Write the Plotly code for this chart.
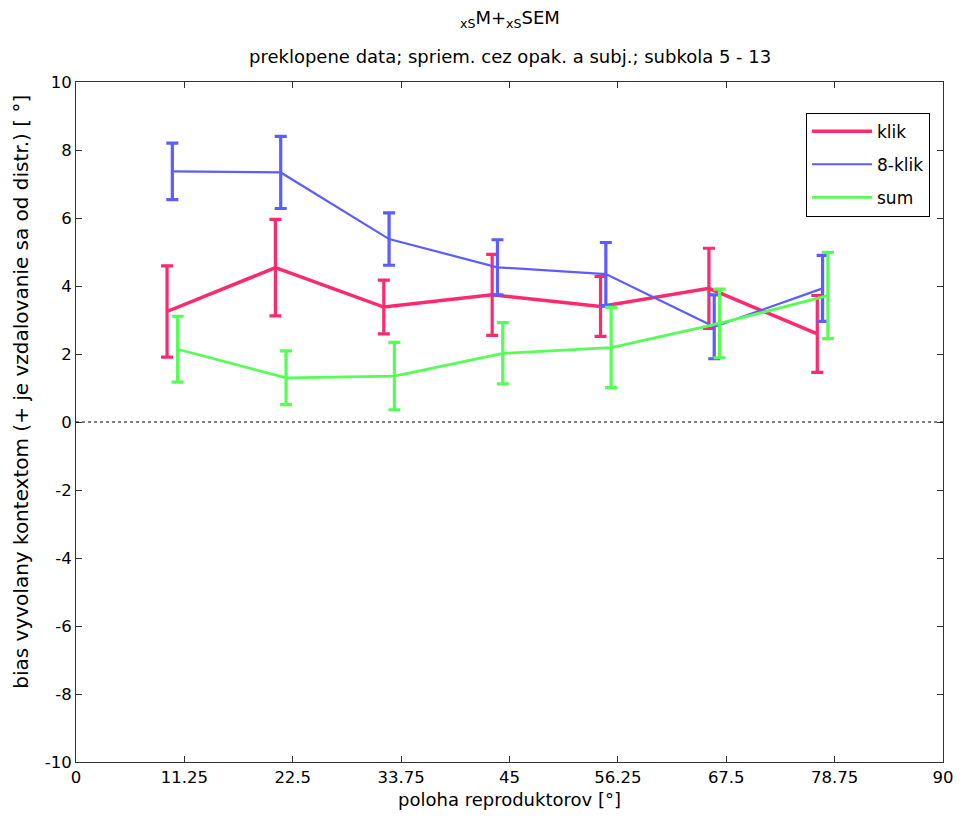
import plotly.graph_objects as go

positions = [11.25, 22.5, 33.75, 45, 56.25, 67.5, 78.75]
tick_vals = [0, 11.25, 22.5, 33.75, 45, 56.25, 67.5, 78.75, 90]
tick_text = ["0", "11.25", "22.5", "33.75", "45", "56.25", "67.5", "78.75", "90"]
y_ticks = [-10, -8, -6, -4, -2, 0, 2, 4, 6, 8, 10]
y_tick_text = ["-10", "-8", "-6", "-4", "-2", "0", "2", "4", "6", "8", "10"]

klik_mean = [3.25, 4.54, 3.38, 3.74, 3.40, 3.93, 2.59]
klik_sem = [1.34, 1.42, 0.79, 1.19, 0.88, 1.18, 1.13]
klik8_mean = [7.37, 7.34, 5.38, 4.55, 4.35, 2.80, 3.93]
klik8_sem = [0.83, 1.06, 0.77, 0.81, 0.93, 0.94, 0.97]
sum_mean = [2.14, 1.30, 1.35, 2.02, 2.19, 2.90, 3.72]
sum_sem = [0.97, 0.79, 0.99, 0.90, 1.18, 1.01, 1.27]

offsets = {"klik": -1.8, "8-klik": -1.25, "sum": -0.7}

series = [
    ("klik", klik_mean, klik_sem, "#FF2A6E", 3.5),
    ("8-klik", klik8_mean, klik8_sem, "#5C5CFF", 2.2),
    ("sum", sum_mean, sum_sem, "#55FF55", 2.8),
]

fig = go.Figure()
for name, mean, sem, color, lw in series:
    xs = [p + offsets[name] for p in positions]
    fig.add_trace(go.Scatter(
        x=xs, y=mean, mode="lines", name=name, legendgroup=name,
        line=dict(color=color, width=lw),
        error_y=dict(type="data", array=sem, visible=True, color=color,
                     thickness=3.2, width=6),
    ))

fig.add_shape(type="line", xref="paper", x0=0, x1=1, yref="y", y0=0, y1=0,
              line=dict(color="black", width=1, dash="dot"))

font_family = "DejaVu Sans, Liberation Sans, Arial, sans-serif"
fs = 16.5
tfs = 18
fig.update_layout(
    width=966, height=823,
    margin=dict(l=76, r=12, t=82, b=61),
    plot_bgcolor="white", paper_bgcolor="white",
    font=dict(family=font_family, size=fs, color="black"),
    showlegend=True,
    legend=dict(x=0.842, y=0.955, xanchor="left", yanchor="top",
                bordercolor="black", borderwidth=1, bgcolor="white",
                font=dict(size=17), tracegroupgap=8, itemwidth=60),
    xaxis=dict(range=[0, 90], tickmode="array", tickvals=tick_vals, ticktext=tick_text,
               ticks="inside", ticklen=6, tickcolor="#333", showline=True,
               linecolor="#333", linewidth=1, mirror="ticks", showgrid=False,
               zeroline=False, tickfont=dict(size=fs),
               title=dict(text="poloha reproduktorov [°]", standoff=7, font=dict(size=tfs))),
    yaxis=dict(range=[-10, 10], tickmode="array", tickvals=y_ticks, ticktext=y_tick_text,
               ticks="inside", ticklen=6, tickcolor="#333", showline=True,
               linecolor="#333", linewidth=1, mirror="ticks", showgrid=False,
               zeroline=False, tickfont=dict(size=fs)),
)

fig.add_annotation(text="bias vyvolany kontextom (+ je vzdalovanie sa od distr.) [ °]",
                   xref="paper", yref="paper", x=(20 - 76) / 878, y=(762 - 392) / 680,
                   xanchor="center", yanchor="middle", textangle=-90,
                   showarrow=False, font=dict(size=20))
fig.add_annotation(text="<sub>xS</sub>M+<sub>xS</sub>SEM", xref="paper", yref="paper",
                   x=0.5, y=(762 - 19) / 680, xanchor="center", yanchor="middle",
                   showarrow=False, font=dict(size=18))
fig.add_annotation(text="preklopene data; spriem. cez opak. a subj.; subkola 5 - 13",
                   xref="paper", yref="paper", x=0.5, y=(762 - 57) / 680,
                   xanchor="center", yanchor="middle", showarrow=False, font=dict(size=tfs))

fig.write_html("out.html")
